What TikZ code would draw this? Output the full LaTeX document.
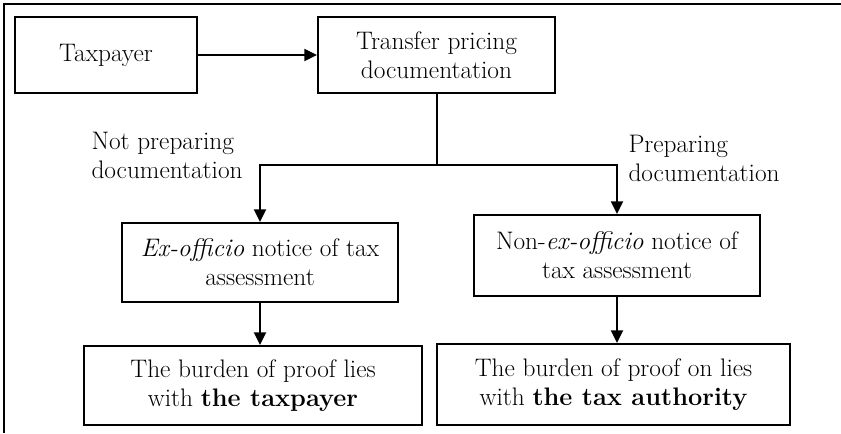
\documentclass[tikz,border=0pt]{standalone}
\usetikzlibrary{arrows.meta}

\tikzset{every picture/.style={line width=0.75pt}}
\tikzset{
  flowbox/.style 2 args={draw, line width=1.5pt, align=center, inner sep=0pt,
    minimum width={#1*0.75pt}, minimum height={#2*0.75pt},
    font=\fontsize{19}{21.5}\selectfont},
  flowlabel/.style={anchor=base west, align=left, inner sep=0pt,
    font=\fontsize{19}{21.5}\selectfont},
  flowarrow/.style={line width=1.5pt, -{Triangle[length=9.5pt,width=9pt]}}
}

\begin{document}
\begin{tikzpicture}[x=0.75pt,y=0.75pt,yscale=-1,xscale=1]
\useasboundingbox (0,0) rectangle (841,433);

% Frame
        \draw [line width=1.2pt] (4,433) -- (4,4) -- (841,4) ;

% Text Node
        \node [flowbox={182}{76}] (taxpayer) at (106,55) {Taxpayer};
% Text Node
        \node [flowbox={237}{76}] (tpd) at (436.5,55) {Transfer pricing\\documentation};
% Text Node
        \node [flowbox={276}{79}] (exoff) at (260,262.5) {\textit{Ex-officio} notice of tax\\assessment};
% Text Node
        \node [flowbox={286}{81}] (nonex) at (617,255.5) {Non-\textit{ex-officio} notice of\\tax assessment};
% Text Node
        \node [flowbox={338}{79}] (bpt) at (253,385.5) {The burden of proof lies\\with \textbf{the taxpayer}};
% Text Node
        \node [flowbox={353}{81}] (bpa) at (613.5,384.5) {The burden of proof on lies\\with \textbf{the tax authority}};
% Text Node
        \node [flowlabel] (notprep) at (91,178) {Not preparing\\documentation};
% Text Node
        \node [flowlabel] (prep) at (628,181) {Preparing\\documentation};

        \coordinate (split) at (436.5,165);

% Connection
        \draw [flowarrow] (taxpayer.east) -- (tpd.west) ;
% Connection
        \draw [line width=1.5pt] (tpd.south) -- (split) ;
        \draw [flowarrow] (split) -| (exoff.north) ;
        \draw [flowarrow] (split) -| (nonex.north) ;
% Connection
        \draw [flowarrow] (exoff.south) -- (exoff.south |- bpt.north) ;
% Connection
        \draw [flowarrow] (nonex.south) -- (nonex.south |- bpa.north) ;

\end{tikzpicture}
\end{document}
